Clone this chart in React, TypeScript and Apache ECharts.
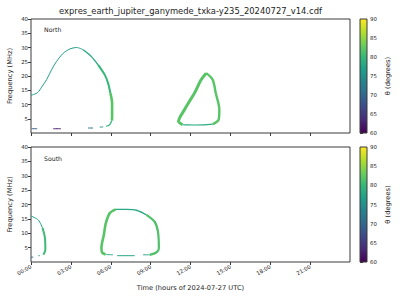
import React, { useEffect, useRef } from "react";
import * as echarts from "echarts";

const TITLE = "expres_earth_jupiter_ganymede_txka-y235_20240727_v14.cdf";
const X_TICKS = [0, 3, 6, 9, 12, 15, 18, 21];
const X_TICK_LABELS = ["00:00", "03:00", "06:00", "09:00", "12:00", "15:00", "18:00", "21:00"];
const Y_TICKS = [5, 10, 15, 20, 25, 30, 35, 40];
const CB_MIN = 60;
const CB_MAX = 90;
const X_LABEL = "Time (hours of 2024-07-27 UTC)";
const Y_LABEL = "Frequency (MHz)";
const CB_LABEL = "θ (degrees)";

// North hemisphere emission pieces: [time (h), frequency (MHz)]
const N_RISE = [[0, 13.2], [0.5, 14.2], [0.8, 16.1], [1.17, 18.7], [1.55, 22.2], [1.92, 25.1], [2.43, 28.0], [2.93, 29.5], [3.43, 30.0], [3.93, 29.2]];
const N_FALL = [[3.93, 29.2], [4.55, 26.8], [5.05, 23.9]];
const N_DESC = [[5.05, 23.9], [5.55, 20.4], [5.8, 17.5], [5.97, 14.0]];
const N_WALL = [[5.97, 14.0], [6.1, 10.5], [6.1, 5.25], [6.08, 4.4]];
const N_FOOT = [[6.08, 4.4], [5.95, 3.1], [5.8, 2.55], [5.65, 2.4]];
const N_BIT1 = [[5.17, 2.1], [5.43, 2.1]];
const N_BIT2 = [[4.3, 1.75], [4.67, 1.75]];
const N_BIT3 = [[1.67, 1.5], [2.25, 1.5]];
const N_BIT4 = [[0.05, 1.5], [0.47, 1.5]];
const N_LOOP_L = [[11.4, 2.9], [11.1, 4.1], [11.2, 5.5], [11.55, 8.2], [11.9, 11.0], [12.3, 14.0], [12.8, 18.7], [13.18, 21.0]];
const N_LOOP_R = [[13.18, 21.0], [13.67, 18.7], [13.9, 14.0], [14.17, 8.2], [14.12, 4.7], [13.67, 3.1]];
const N_LOOP_B = [[13.67, 3.1], [13.0, 2.85], [12.3, 2.8], [11.7, 2.85], [11.4, 2.9]];

// South hemisphere emission pieces
const S1_TOP = [[0, 16.0], [0.55, 14.6], [0.87, 11.8]];
const S1_WALL = [[0.87, 11.8], [1.05, 8.3], [1.08, 4.3], [0.93, 2.5]];
const S1_BIT1 = [[0.55, 2.2], [0.67, 2.2]];
const S1_BIT2 = [[0, 1.7], [0.17, 1.7]];
const S2_LEFT = [[5.6, 2.6], [5.35, 3.3], [5.3, 5.0], [5.48, 9.4], [5.63, 13.5], [5.93, 17.0], [6.38, 18.3]];
const S2_TOP = [[6.38, 18.3], [7.2, 18.3], [7.93, 18.0], [8.68, 16.4]];
const S2_RIGHT = [[8.68, 16.4], [9.3, 14.0], [9.55, 10.6], [9.62, 4.8], [9.43, 3.3], [8.93, 2.5]];
const S2_BOT1 = [[8.93, 2.5], [8.43, 2.5]];
const S2_BOT2 = [[6.48, 2.2], [7.8, 2.2]];
const S2_BOT3 = [[6.17, 2.5], [5.6, 2.6]];

// theta (degrees) for each piece
const NORTH_PIECES: [number[][], number][] = [
  [N_RISE, 76.5], [N_FALL, 78], [N_DESC, 80], [N_WALL, 82], [N_FOOT, 79.5],
  [N_BIT1, 75], [N_BIT2, 71], [N_BIT3, 62], [N_BIT4, 69],
  [N_LOOP_L, 82], [N_LOOP_R, 82], [N_LOOP_B, 78.5],
];
const SOUTH_PIECES: [number[][], number][] = [
  [S1_TOP, 77], [S1_WALL, 80.5], [S1_BIT1, 77], [S1_BIT2, 70],
  [S2_LEFT, 82], [S2_TOP, 78], [S2_RIGHT, 81.5], [S2_BOT1, 77.5], [S2_BOT2, 77.5], [S2_BOT3, 78.5],
];

// line widths (style, kept separate from data)
const WIDTHS: Map<number[][], number> = new Map([
  [N_RISE, 1], [N_FALL, 1.4], [N_DESC, 2], [N_WALL, 2.6], [N_FOOT, 1.2],
  [N_LOOP_L, 3], [N_LOOP_R, 2.4], [N_LOOP_B, 1.2],
  [S1_TOP, 1], [S1_WALL, 2], [S2_LEFT, 2.6], [S2_TOP, 1.3], [S2_RIGHT, 2.2],
]);

const VIRIDIS = ["#440154", "#482878", "#3e4989", "#31688e", "#26828e", "#1f9e89", "#35b779", "#6ece58", "#b5de2b", "#fde725"];

function hex(c: string) {
  return [parseInt(c.slice(1, 3), 16), parseInt(c.slice(3, 5), 16), parseInt(c.slice(5, 7), 16)];
}
function viridis(theta: number) {
  const t = Math.max(0, Math.min(1, (theta - CB_MIN) / (CB_MAX - CB_MIN))) * (VIRIDIS.length - 1);
  const i = Math.min(VIRIDIS.length - 2, Math.floor(t));
  const f = t - i;
  const a = hex(VIRIDIS[i]);
  const b = hex(VIRIDIS[i + 1]);
  const m = a.map((v, k) => Math.round(v + (b[k] - v) * f));
  return `rgb(${m[0]},${m[1]},${m[2]})`;
}

const FONT = "DejaVu Sans";
const INK = "#222";
const FRAME = "#3a3a3a";

export default function App() {
  const ref = useRef<HTMLDivElement>(null);
  useEffect(() => {
    if (!ref.current) return;
    const chart = echarts.init(ref.current, undefined, { renderer: "svg" });

    const mkSeries = (pieces: [number[][], number][], idx: number) =>
      pieces.map(([pts, theta]) => ({
        type: "line",
        xAxisIndex: idx,
        yAxisIndex: idx,
        data: pts,
        smooth: 0.3,
        showSymbol: false,
        silent: true,
        lineStyle: { color: viridis(theta), width: WIDTHS.get(pts) ?? 1, join: "round" },
      }));

    const stops = VIRIDIS.map((c, i) => ({ offset: i / (VIRIDIS.length - 1), color: c }));
    const cbSeries = (idx: number) => ({
      type: "custom",
      xAxisIndex: idx,
      yAxisIndex: idx,
      coordinateSystem: "cartesian2d",
      silent: true,
      data: [[0, CB_MIN]],
      renderItem: (params: any) => {
        const cs = params.coordSys;
        return {
          type: "rect",
          shape: { x: cs.x, y: cs.y, width: cs.width, height: cs.height },
          style: { fill: new echarts.graphic.LinearGradient(0, 1, 0, 0, stops), stroke: FRAME, lineWidth: 1 },
        };
      },
    });

    const dataX = (idx: number, labels: boolean) => ({
      type: "value",
      gridIndex: idx,
      min: 0,
      max: 24,
      axisLine: { show: false },
      splitLine: { show: false },
      axisTick: { show: true, customValues: X_TICKS, length: 3, lineStyle: { color: FRAME } },
      axisLabel: {
        show: labels,
        customValues: X_TICKS,
        formatter: (v: number) => X_TICK_LABELS[X_TICKS.indexOf(v)] ?? "",
        rotate: 30,
        fontSize: 5.4,
        fontFamily: FONT,
        color: INK,
        margin: 4,
      },
    });
    const dataY = (idx: number) => ({
      type: "value",
      gridIndex: idx,
      min: 0,
      max: 40,
      axisLine: { show: false },
      splitLine: { show: false },
      axisTick: { show: true, customValues: Y_TICKS, length: 3, lineStyle: { color: FRAME } },
      axisLabel: { customValues: Y_TICKS, fontSize: 5.4, fontFamily: FONT, color: INK, margin: 3 },
    });
    const cbX = (idx: number) => ({ type: "value", gridIndex: idx, min: 0, max: 1, show: false });
    const cbY = (idx: number) => ({
      type: "value",
      gridIndex: idx,
      position: "right",
      min: CB_MIN,
      max: CB_MAX,
      interval: 5,
      axisLine: { show: false },
      splitLine: { show: false },
      axisTick: { show: true, length: 3, lineStyle: { color: FRAME } },
      axisLabel: { fontSize: 5.4, fontFamily: FONT, color: INK, margin: 3 },
    });

    const gridStyle = { show: true, borderColor: FRAME, borderWidth: 1, backgroundColor: "#fff" };
    const txt = (text: string, x: number, y: number, size: number, rot = 0, align = "center") => ({
      type: "text",
      x,
      y,
      rotation: rot,
      style: { text, fontSize: size, fontFamily: FONT, fill: INK, textAlign: align, textVerticalAlign: "middle" },
    });

    chart.setOption({
      animation: false,
      backgroundColor: "#fff",
      grid: [
        { left: 31, top: 19, width: 319, height: 114, ...gridStyle },
        { left: 31, top: 147, width: 319, height: 115, ...gridStyle },
        { left: 360, top: 19, width: 7, height: 114, show: false },
        { left: 360, top: 147, width: 7, height: 115, show: false },
      ],
      xAxis: [dataX(0, false), dataX(1, true), cbX(2), cbX(3)],
      yAxis: [dataY(0), dataY(1), cbY(2), cbY(3)],
      series: [...mkSeries(NORTH_PIECES, 0), ...mkSeries(SOUTH_PIECES, 1), cbSeries(2), cbSeries(3)],
      graphic: [
        txt(TITLE, 190.5, 11, 8.4),
        txt("North", 44, 29.5, 6.2, 0, "left"),
        txt("South", 44, 158.5, 6.2, 0, "left"),
        txt(Y_LABEL, 10, 76, 6.7, Math.PI / 2),
        txt(Y_LABEL, 10, 204.5, 6.7, Math.PI / 2),
        txt(CB_LABEL, 388, 76, 6.7, Math.PI / 2),
        txt(CB_LABEL, 388, 204.5, 6.7, Math.PI / 2),
        txt(X_LABEL, 190.5, 287.5, 6.7),
      ],
    });
    return () => chart.dispose();
  }, []);
  return <div ref={ref} style={{ position: "absolute", left: 0, top: 0, width: 400, height: 300 }} />;
}
